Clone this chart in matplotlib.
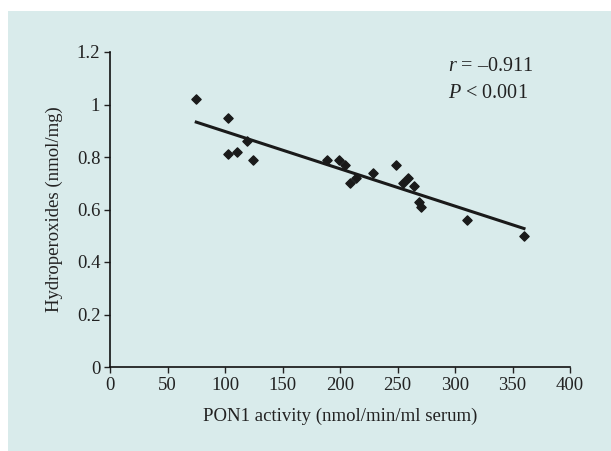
import numpy as np
import matplotlib
matplotlib.use("Agg")
import matplotlib.pyplot as plt
from matplotlib.patches import Rectangle

# PON1 activity vs hydroperoxides
pon1 = [75, 103, 103, 110, 119, 124, 189, 199, 204, 209, 214, 229,
        249, 255, 259, 264, 269, 270, 310, 360]
hydro = [1.02, 0.95, 0.81, 0.82, 0.86, 0.79, 0.79, 0.79, 0.77, 0.70, 0.72, 0.74,
         0.77, 0.70, 0.72, 0.69, 0.63, 0.61, 0.56, 0.50]
x_ticks = [0, 50, 100, 150, 200, 250, 300, 350, 400]
y_ticks = [0, 0.2, 0.4, 0.6, 0.8, 1, 1.2]
y_labels = ["0", "0.2", "0.4", "0.6", "0.8", "1", "1.2"]

plt.rcParams['font.family'] = ['Liberation Serif', 'DejaVu Serif']
plt.rcParams['mathtext.fontset'] = 'custom'
plt.rcParams['mathtext.rm'] = 'Liberation Serif'
plt.rcParams['mathtext.it'] = 'Liberation Serif:italic'
bg = '#d9ebeb'
ink = '#222222'

fig = plt.figure(figsize=(6.11, 4.51), dpi=100)
fig.patch.set_facecolor('white')
fig.patches.append(Rectangle((8 / 611, 0), 1 - 8 / 611, 1 - 11 / 451,
                             transform=fig.transFigure, facecolor=bg,
                             edgecolor='none', zorder=-10))

ax = fig.add_axes([110 / 611, 1 - 367 / 451, 460 / 611, 315 / 451])
ax.set_facecolor('none')

ax.scatter(pon1, hydro, marker='D', s=22, color='#1a1a1a', zorder=3)

# linear fit
k, b = np.polyfit(pon1, hydro, 1)
xs = np.array([min(pon1), max(pon1)])
ax.plot(xs, k * xs + b, color='#1a1a1a', lw=2.2, zorder=2)

ax.set_xlim(0, 400)
ax.set_ylim(0, 1.2)
ax.set_xticks(x_ticks)
ax.set_yticks(y_ticks)
ax.set_yticklabels(y_labels)
ax.tick_params(direction='out', length=4, width=1, labelsize=13.5,
               colors=ink, pad=3)
for s in ['top', 'right']:
    ax.spines[s].set_visible(False)
for s in ['left', 'bottom']:
    ax.spines[s].set_linewidth(1.2)
    ax.spines[s].set_color('#111111')

ax.set_xlabel('PON1 activity (nmol/min/ml serum)', fontsize=13.5,
              color=ink, labelpad=10)
ax.set_ylabel('Hydroperoxides (nmol/mg)', fontsize=13.5, color=ink,
              labelpad=10)

ax.text(0.735, 0.94, '$r$ = \u20130.911', transform=ax.transAxes,
        fontsize=14.5, color=ink)
ax.text(0.735, 0.855, '$P$ < 0.001', transform=ax.transAxes,
        fontsize=14.5, color=ink)

fig.savefig('out.png', dpi=100, facecolor=fig.get_facecolor())
